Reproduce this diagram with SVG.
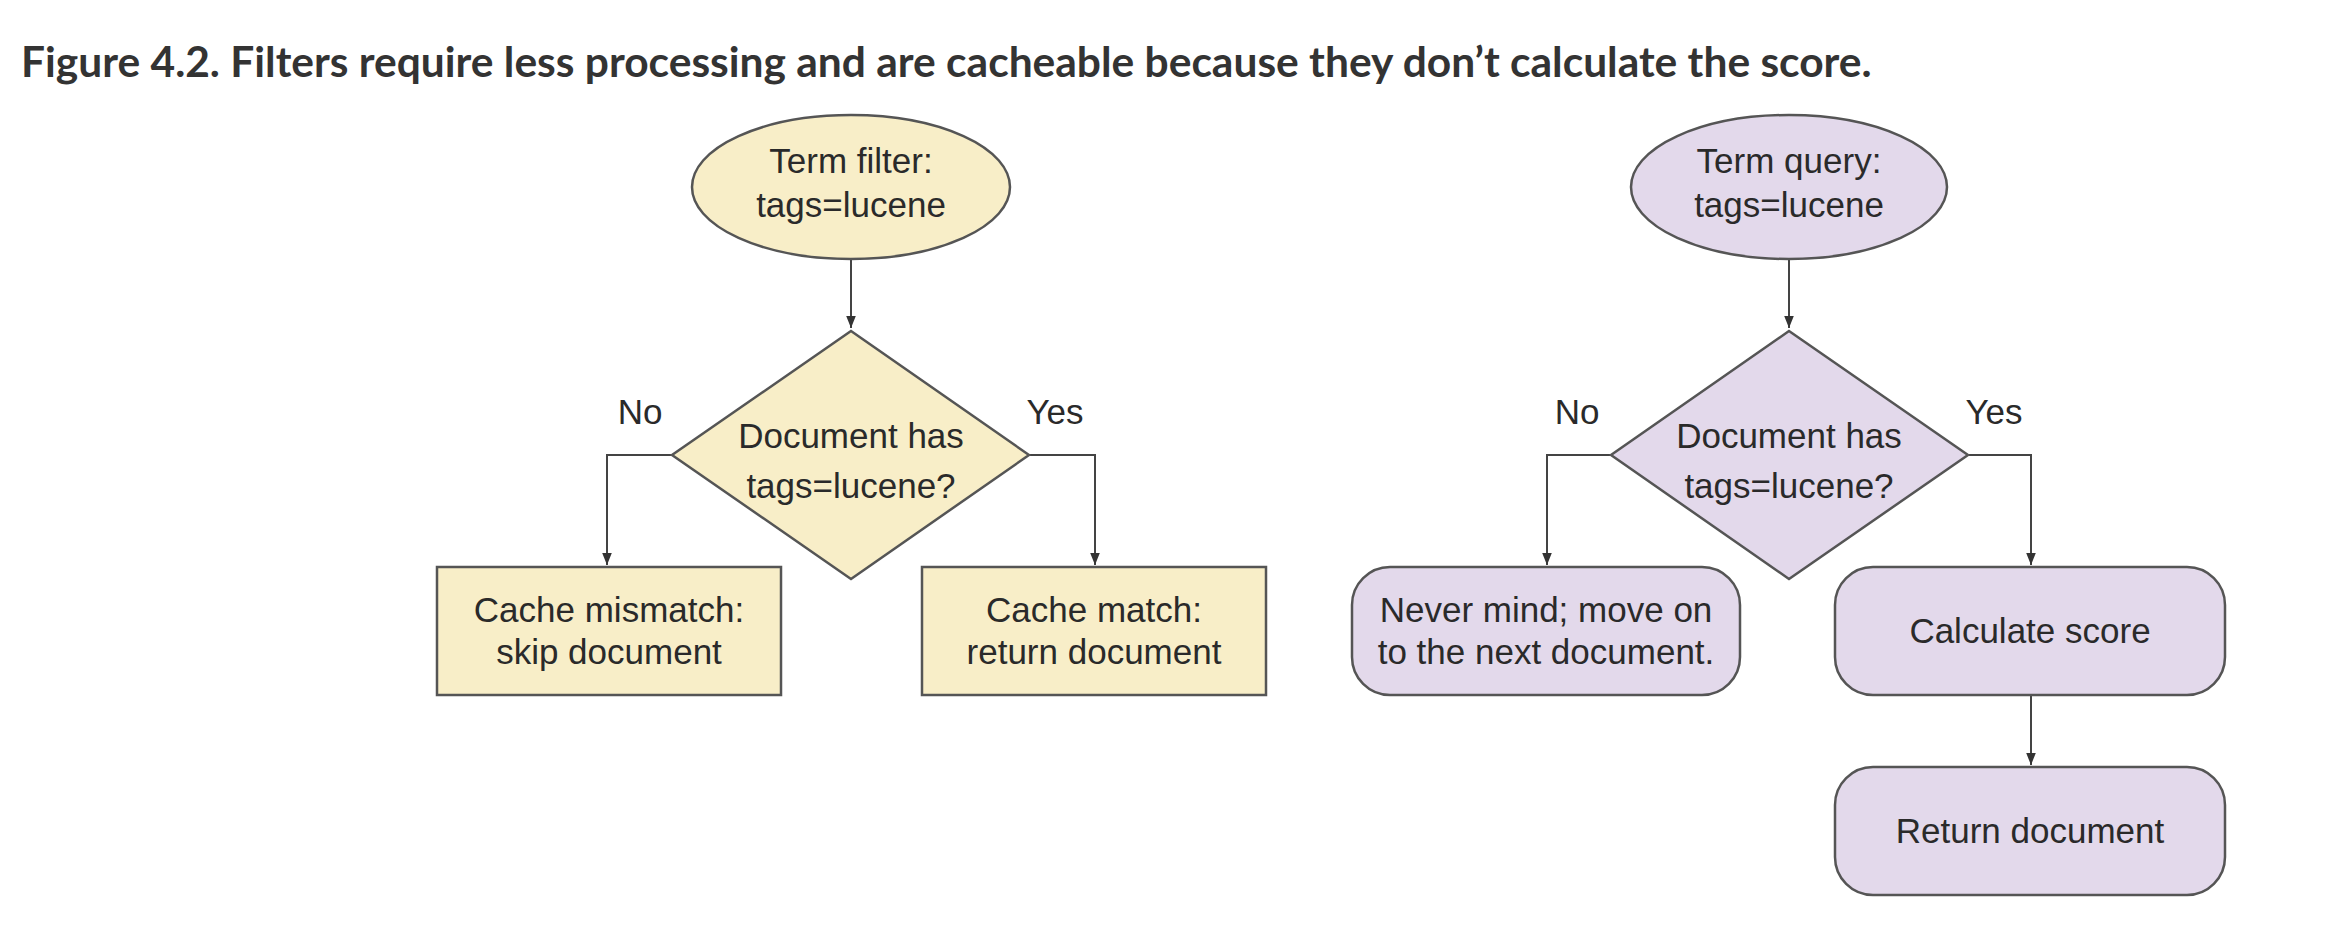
<svg xmlns="http://www.w3.org/2000/svg" width="2332" height="930" viewBox="0 0 2332 930">
<style>
.title{font-family:Lato,"Liberation Sans",sans-serif;font-weight:bold;font-size:42.5px;fill:#333333}
.t{font-family:"Liberation Sans",Arial,sans-serif;font-size:35px;fill:#2a2a2a;text-anchor:middle}
.y{fill:#f8eec8;stroke:#555555;stroke-width:2.5}
.p{fill:#e3d9eb;stroke:#555555;stroke-width:2.5}
.c{fill:none;stroke:#444444;stroke-width:2}
</style>
<defs>
<marker id="ah" viewBox="0 0 10 10" refX="10" refY="5" markerWidth="6" markerHeight="6" orient="auto" markerUnits="strokeWidth">
<path d="M0,1 L10,5 L0,9 z" fill="#333333"/>
</marker>
</defs>
<rect width="2332" height="930" fill="#ffffff"/>
<text class="title" x="21" y="77">Figure 4.2. Filters require less processing and are cacheable because they don’t calculate the score.</text>

<g id="connectors">
<path class="c" d="M851,259 L851,328" marker-end="url(#ah)"/>
<path class="c" d="M672,455 L607,455 L607,565" marker-end="url(#ah)"/>
<path class="c" d="M1029,455 L1095,455 L1095,565" marker-end="url(#ah)"/>
<path class="c" d="M1789,259 L1789,328" marker-end="url(#ah)"/>
<path class="c" d="M1611,455 L1547,455 L1547,565" marker-end="url(#ah)"/>
<path class="c" d="M1968,455 L2031,455 L2031,565" marker-end="url(#ah)"/>
<path class="c" d="M2031,695 L2031,765" marker-end="url(#ah)"/>
<text class="t" x="640" y="424">No</text>
<text class="t" x="1055" y="424">Yes</text>
<text class="t" x="1577" y="424">No</text>
<text class="t" x="1994" y="424">Yes</text>
</g>

<g id="filter-start">
<ellipse class="y" cx="851" cy="187" rx="159" ry="72"/>
<text class="t" x="851" y="173">Term filter:</text>
<text class="t" x="851" y="217">tags=lucene</text>
</g>
<g id="filter-decision">
<polygon class="y" points="851,331 1029,455 851,579 672,455"/>
<text class="t" x="851" y="448">Document has</text>
<text class="t" x="851" y="498">tags=lucene?</text>
</g>
<g id="filter-mismatch">
<rect class="y" x="437" y="567" width="344" height="128"/>
<text class="t" x="609" y="622">Cache mismatch:</text>
<text class="t" x="609" y="664">skip document</text>
</g>
<g id="filter-match">
<rect class="y" x="922" y="567" width="344" height="128"/>
<text class="t" x="1094" y="622">Cache match:</text>
<text class="t" x="1094" y="664">return document</text>
</g>

<g id="query-start">
<ellipse class="p" cx="1789" cy="187" rx="158" ry="72"/>
<text class="t" x="1789" y="173">Term query:</text>
<text class="t" x="1789" y="217">tags=lucene</text>
</g>
<g id="query-decision">
<polygon class="p" points="1789,331 1968,455 1789,579 1611,455"/>
<text class="t" x="1789" y="448">Document has</text>
<text class="t" x="1789" y="498">tags=lucene?</text>
</g>
<g id="query-skip">
<rect class="p" x="1352" y="567" width="388" height="128" rx="38" ry="38"/>
<text class="t" x="1546" y="622">Never mind; move on</text>
<text class="t" x="1546" y="664">to the next document.</text>
</g>
<g id="query-score">
<rect class="p" x="1835" y="567" width="390" height="128" rx="38" ry="38"/>
<text class="t" x="2030" y="643">Calculate score</text>
</g>
<g id="query-return">
<rect class="p" x="1835" y="767" width="390" height="128" rx="38" ry="38"/>
<text class="t" x="2030" y="843">Return document</text>
</g>
</svg>
